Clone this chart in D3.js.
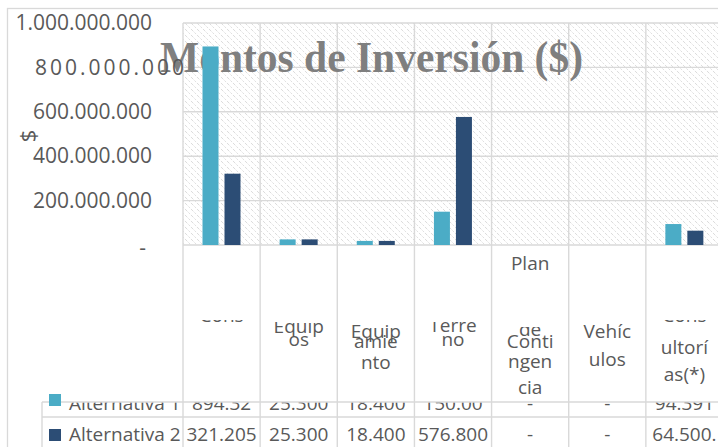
<!DOCTYPE html>
<html>
<head>
<meta charset="utf-8">
<script src="https://cdn.jsdelivr.net/npm/d3@7"></script>
<style>
  html, body { margin: 0; padding: 0; background: #fff; }
  svg { display: block; font-family: "Open Sans", sans-serif; }
</style>
</head>
<body>
<svg id="chart" width="718" height="447"></svg>
<script>
const categories = ['Construcción', 'Equipos', 'Equipamiento', 'Terreno', 'Plan de Contingencia', 'Vehículos', 'Consultorías(*)'];
const seriesNames = ['Alternativa 1', 'Alternativa 2'];
const alt1Values = [894320000, 25300000, 18400000, 150000000, 0, 0, 94391000];
const alt2Values = [321205000, 25300000, 18400000, 576800000, 0, 0, 64500000];
const alt1Labels = ['894.32', '25.300', '18.400', '150.00', '-', '-', '94.391'];
const alt2Labels = ['321.205', '25.300', '18.400', '576.800', '-', '-', '64.500.'];
const yTicks = [0, 200000000, 400000000, 600000000, 800000000, 1000000000];
const colors = ['#4bacc6', '#2c4d75'];

// the header cells wrap the names badly, these are the fragments that show
// [column, text, baseline, clip top]
const headerLayout = [
  [0, 'Cons', 322, 320],
  [1, 'Equip', 333, 322], [1, 'os', 346, 0],
  [2, 'Equip', 338, 0], [2, 'amie', 348, 0], [2, 'nto', 369, 0],
  [3, 'Terre', 332, 322], [3, 'no', 346, 0],
  [4, 'Plan', 270, 0], [4, 'de', 336, 327], [4, 'Conti', 348, 0], [4, 'ngen', 368, 0], [4, 'cia', 394, 0],
  [5, 'Vehíc', 338, 0], [5, 'ulos', 366, 0],
  [6, 'Cons', 322, 320], [6, 'ultorí', 354, 0], [6, 'as(*)', 381, 0]
];

const svg = d3.select('#chart');
const grid = '#d9d9d9';
const textColor = '#595959';

let plot = { left: 183, right: 723, top: 23, bottom: 245 };
let tableLeft = 42, row1Top = 402, row2Top = 417;

let x = d3.scaleBand()
  .domain(categories)
  .range([plot.left, plot.right]);

let xs = d3.scaleBand()
  .domain(seriesNames)
  .range([19.5, 57.5])
  .paddingInner(0.2727);

let y = d3.scaleLinear()
  .domain([0, 1000000000])
  .range([plot.bottom, plot.top]);

// hatched plot area
let defs = svg.append('defs');
let pat = defs.append('pattern')
  .attr('id', 'hatch')
  .attr('patternUnits', 'userSpaceOnUse')
  .attr('width', 6)
  .attr('height', 6);
pat.append('rect').attr('width', 6).attr('height', 6).attr('fill', '#fff');
pat.append('path')
  .attr('d', 'M0,0 L6,6 M-3,3 L0,6 M3,-3 L9,3')
  .attr('stroke', '#dcdcdc')
  .attr('stroke-width', 1)
  .attr('stroke-dasharray', '2,1.5');

svg.append('rect')
  .attr('x', 7.5).attr('y', 8.5)
  .attr('width', 730).attr('height', 460)
  .attr('fill', '#fff')
  .attr('stroke', grid)
  .attr('stroke-width', 1.3);

svg.append('rect')
  .attr('x', plot.left).attr('y', plot.top)
  .attr('width', plot.right - plot.left)
  .attr('height', plot.bottom - plot.top)
  .attr('fill', 'url(#hatch)');

// gridlines
svg.append('g')
  .selectAll('line')
  .data(yTicks)
  .enter().append('line')
  .attr('x1', plot.left).attr('x2', plot.right)
  .attr('y1', d => y(d)).attr('y2', d => y(d))
  .attr('stroke', grid)
  .attr('stroke-width', 1.4);

let edges = categories.map(c => x(c)).concat([plot.right]);

svg.append('g')
  .selectAll('line')
  .data(edges)
  .enter().append('line')
  .attr('x1', d => d).attr('x2', d => d)
  .attr('y1', plot.top).attr('y2', 447)
  .attr('stroke', grid)
  .attr('stroke-width', 1.4);

// title
svg.append('text')
  .attr('x', 160)
  .attr('y', 72)
  .attr('textLength', 423)
  .attr('lengthAdjust', 'spacingAndGlyphs')
  .style('font-family', '"Liberation Serif", serif')
  .style('font-weight', 'bold')
  .style('font-size', '45px')
  .attr('fill', '#7f7f7f')
  .text('Montos de Inversión ($)');

// bars
let series = [alt1Values, alt2Values];

seriesNames.forEach((name, i) => {
  svg.append('g')
    .selectAll('rect')
    .data(series[i])
    .enter().append('rect')
    .attr('x', (d, j) => x(categories[j]) + xs(name))
    .attr('width', xs.bandwidth())
    .attr('y', d => y(d))
    .attr('height', d => plot.bottom - y(d))
    .attr('fill', colors[i]);
});

// y axis
let yAxis = svg.append('g')
  .attr('transform', `translate(${plot.left},0)`)
  .call(d3.axisLeft(y)
    .tickValues(yTicks)
    .tickSize(0)
    .tickPadding(31)
    .tickFormat(d => d === 0 ? '-' : d3.format(',')(d).replace(/,/g, '.')));

yAxis.select('.domain').remove();
yAxis.selectAll('text')
  .attr('fill', textColor)
  .style('font-family', '"Open Sans", sans-serif')
  .style('font-size', '21px');

yAxis.selectAll('.tick')
  .filter(d => d === 0)
  .select('text')
  .attr('x', -37)
  .attr('dy', '0.45em');

yAxis.selectAll('.tick')
  .filter(d => d === 800000000)
  .select('text')
  .attr('x', 1)
  .attr('textLength', 149)
  .attr('lengthAdjust', 'spacing');

svg.append('text')
  .attr('transform', 'translate(28,136) rotate(-90)')
  .attr('text-anchor', 'middle')
  .attr('dy', '0.35em')
  .attr('fill', textColor)
  .style('font-size', '22px')
  .text('$');

// data table, row 1 sits half hidden under the header cells
let clipRow = defs.append('clipPath').attr('id', 'clip-row1');
clipRow.append('rect')
  .attr('x', 0).attr('y', row1Top)
  .attr('width', 718).attr('height', 60);

let rows = [alt1Labels, alt2Labels];
let baselines = [410, 441];

rows.forEach((labels, i) => {
  let g = svg.append('g');
  if (i === 0) g.attr('clip-path', 'url(#clip-row1)');

  g.append('text')
    .attr('x', 69)
    .attr('y', baselines[i])
    .attr('fill', textColor)
    .style('font-size', '19px')
    .text(seriesNames[i]);

  g.selectAll('text.val')
    .data(labels)
    .enter().append('text')
    .attr('class', 'val')
    .attr('x', (d, j) => x(categories[j]) + x.bandwidth() / 2)
    .attr('y', baselines[i])
    .attr('text-anchor', 'middle')
    .attr('fill', textColor)
    .style('font-size', '19px')
    .text(d => d);
});

[row1Top, row2Top].forEach(yy => {
  svg.append('line')
    .attr('x1', tableLeft).attr('x2', plot.right)
    .attr('y1', yy).attr('y2', yy)
    .attr('stroke', grid)
    .attr('stroke-width', 1.4);
});

svg.append('line')
  .attr('x1', tableLeft).attr('x2', tableLeft)
  .attr('y1', row1Top).attr('y2', 447)
  .attr('stroke', grid)
  .attr('stroke-width', 1.4);

// header fragments
headerLayout.forEach(([col, txt, base, clipTop], k) => {
  let t = svg.append('text')
    .attr('x', x(categories[col]) + x.bandwidth() / 2)
    .attr('y', base)
    .attr('text-anchor', 'middle')
    .attr('fill', textColor)
    .style('font-size', '19px')
    .text(txt);

  if (clipTop) {
    defs.append('clipPath').attr('id', 'hc' + k)
      .append('rect')
      .attr('x', 0).attr('y', clipTop)
      .attr('width', 718).attr('height', 100);
    t.attr('clip-path', `url(#hc${k})`);
  }
});

// legend keys
let keyTops = [394, 429];
svg.append('g')
  .selectAll('rect')
  .data(seriesNames)
  .enter().append('rect')
  .attr('x', 49)
  .attr('y', (d, i) => keyTops[i])
  .attr('width', 12)
  .attr('height', 12)
  .attr('fill', (d, i) => colors[i]);
</script>
</body>
</html>
